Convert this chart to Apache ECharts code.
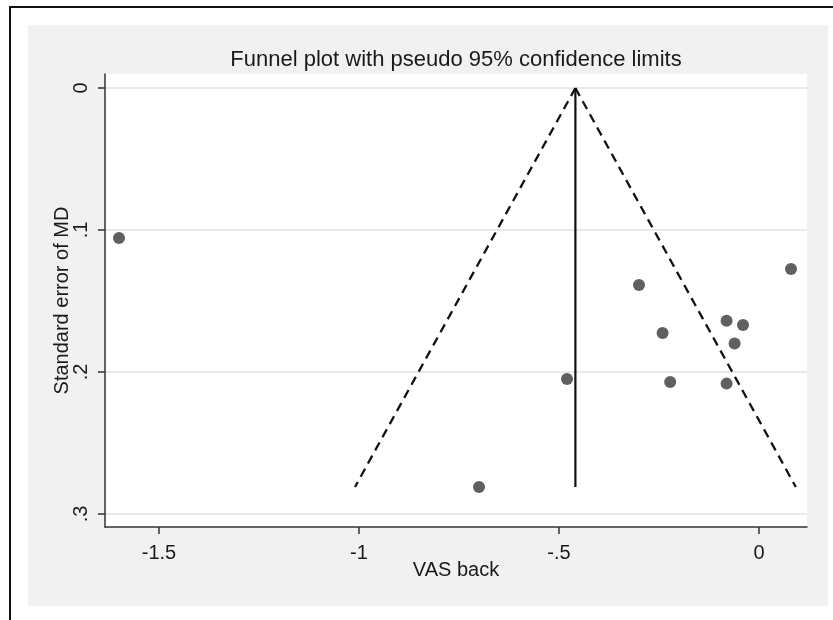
<!DOCTYPE html>
<html>
<head>
<meta charset="utf-8">
<script src="https://cdn.jsdelivr.net/npm/echarts@6/dist/echarts.min.js"></script>
<style>
  html, body { margin: 0; padding: 0; background: #fff; }
  #chart { width: 833px; height: 620px; }
</style>
</head>
<body>
<div id="chart"></div>
<script>
  // study estimates (mean difference) and their standard errors
  const effectMD = [-1.60, -0.70, -0.48, -0.300, -0.241, -0.222, -0.081, -0.081, -0.061, -0.040, 0.080];
  const seMD     = [0.1056, 0.281, 0.205, 0.1387, 0.1725, 0.207, 0.1639, 0.2082, 0.180, 0.1669, 0.1275];

  // pooled estimate line and pseudo 95% limits (end points)
  const pooledLine = [[-0.459, 0], [-0.459, 0.281]];
  const lowerLimit = [[-0.459, 0], [-1.010, 0.281]];
  const upperLimit = [[-0.459, 0], [0.092, 0.281]];

  const xTicks = [-1.5, -1, -0.5, 0];
  const yTicks = [0, 0.1, 0.2, 0.3];

  const stataNum = v => (v === 0 ? '0' : String(v).replace('0.', '.'));

  const chart = echarts.init(document.getElementById('chart'));
  const font = '"Liberation Sans", Arial, sans-serif';

  const option = {
    animation: false,
    textStyle: { fontFamily: font },
    graphic: [
      {
        type: 'rect', z: -20, silent: true,
        shape: { x: 28, y: 25, width: 800, height: 581 },
        style: { fill: '#f1f1f1' }
      },
      {
        type: 'rect', z: -10, silent: true,
        shape: { x: 10, y: 7, width: 900, height: 700 },
        style: { fill: 'none', stroke: '#111', lineWidth: 2 }
      }
    ],
    title: {
      text: 'Funnel plot with pseudo 95% confidence limits',
      left: 456,
      top: 49,
      padding: 0,
      textAlign: 'center',
      textStyle: { fontFamily: font, fontSize: 22, fontWeight: 'normal', color: '#1a1a1a' }
    },
    grid: {
      left: 105, top: 74, right: 26, bottom: 93,
      show: true, backgroundColor: '#ffffff', borderWidth: 0
    },
    xAxis: {
      type: 'value',
      min: -1.635, max: 0.12,
      name: 'VAS back',
      nameLocation: 'middle',
      nameGap: 33,
      nameMoveOverlap: false,
      nameTextStyle: { fontFamily: font, fontSize: 20, color: '#1a1a1a' },
      axisLine: { onZero: false, lineStyle: { color: '#333', width: 1.5 } },
      axisTick: { length: 7, customValues: xTicks, lineStyle: { color: '#333', width: 1.5 } },
      axisLabel: {
        customValues: xTicks, margin: 16,
        fontFamily: font, fontSize: 20, color: '#1a1a1a',
        formatter: stataNum
      },
      splitLine: { show: false }
    },
    yAxis: {
      type: 'value',
      inverse: true,
      min: -0.0099, max: 0.3092,
      name: 'Standard error of MD',
      nameLocation: 'middle',
      nameGap: 33,
      nameRotate: 90,
      nameMoveOverlap: false,
      nameTextStyle: { fontFamily: font, fontSize: 20, color: '#1a1a1a' },
      axisLine: { onZero: false, lineStyle: { color: '#333', width: 1.5 } },
      axisTick: { length: 7, customValues: yTicks, lineStyle: { color: '#333', width: 1.5 } },
      axisLabel: {
        customValues: yTicks, margin: 14, rotate: 90,
        fontFamily: font, fontSize: 20, color: '#1a1a1a',
        formatter: stataNum
      },
      splitLine: { show: true, lineStyle: { color: '#e9e9e9', width: 2 } }
    },
    series: [
      {
        type: 'line', data: lowerLimit, symbol: 'none',
        lineStyle: { color: '#111', width: 2.3, type: [9, 6] }
      },
      {
        type: 'line', data: upperLimit, symbol: 'none',
        lineStyle: { color: '#111', width: 2.3, type: [9, 6] }
      },
      {
        type: 'line', data: pooledLine, symbol: 'none',
        lineStyle: { color: '#111', width: 2.2 }
      },
      {
        type: 'scatter',
        data: effectMD.map((x, i) => [x, seMD[i]]),
        symbolSize: 12,
        itemStyle: { color: '#383838' }
      }
    ]
  };

  chart.setOption(option);
</script>
</body>
</html>
